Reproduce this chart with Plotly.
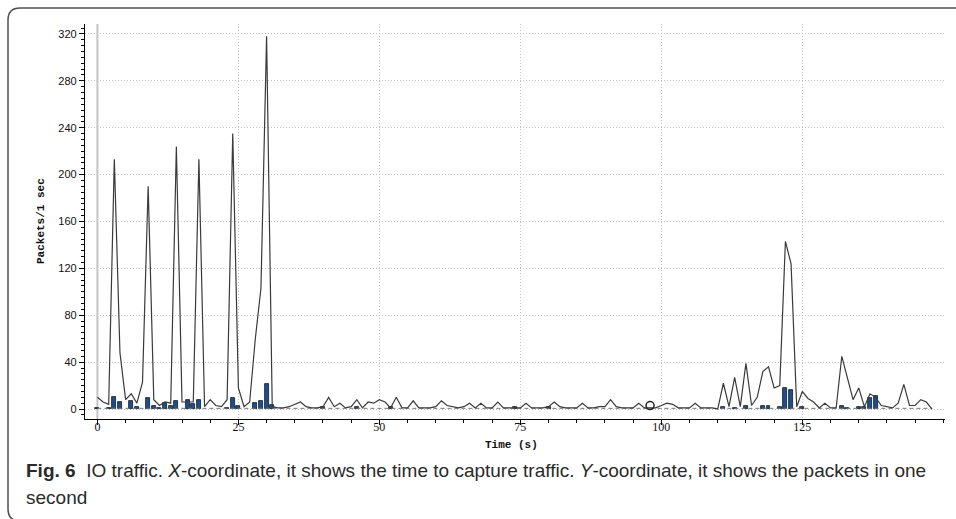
import plotly.graph_objects as go

# ---- data ----
line_t = list(range(0, 149))
line_v = [10, 6, 4, 213, 48, 8, 13, 5, 23, 190,
          8, 3, 6, 5, 224, 6, 6, 6, 213, 2,
          8, 3, 2, 8, 235, 18, 2, 6, 60, 103,
          318, 2, 1, 1, 2, 4, 6, 2, 1, 1,
          2, 10, 2, 5, 1, 2, 8, 1, 6, 5,
          8, 6, 1, 10, 1, 1, 7, 1, 1, 1,
          2, 7, 3, 2, 1, 2, 5, 1, 5, 1,
          1, 6, 1, 1, 1, 1, 5, 1, 1, 1,
          2, 6, 2, 1, 1, 1, 5, 1, 1, 2,
          2, 8, 2, 1, 1, 1, 5, 1, 1, 1,
          3, 5, 4, 1, 1, 1, 5, 1, 1, 1,
          0, 22, 2, 27, 2, 39, 3, 10, 32, 36,
          18, 20, 143, 124, 2, 15, 9, 6, 1, 5,
          1, 1, 45, 27, 8, 18, 2, 13, 10, 3,
          2, 1, 5, 21, 3, 3, 8, 6, 0]

bar_t = [0, 2, 3, 4, 6, 7, 9, 10, 11, 12, 13, 14, 16, 17, 18, 23, 24, 25, 28, 29, 30, 31,
         40, 46, 52, 74, 80, 111, 113, 115, 118, 119, 121, 122, 123, 125, 132, 133, 135, 136, 137, 138]
bar_v = [1, 1, 10, 6, 7, 2, 9, 3, 1, 5, 2.5, 7, 8, 4, 8, 1, 9, 3, 5, 7, 21, 3.5,
         1.5, 2, 2, 1.5, 1.5, 1.5, 1, 3, 3, 3, 1.5, 18, 16, 1.5, 2.5, 1, 1.5, 1.5, 9, 11]

base_t = [0, 148]
base_v = [0.6, 0.6]

marker_t = [98]
marker_v = [3]

x_ticks = [0, 25, 50, 75, 100, 125]
y_ticks = [0, 40, 80, 120, 160, 200, 240, 280, 320]

W, H = 956, 519
ML, MR, MT, MB = 85, 11, 24, 100
PW, PH = W - ML - MR, H - MT - MB


def px(x):
    return (x - ML) / PW


def py(y):
    return (H - MB - y) / PH


fig = go.Figure()
fig.add_trace(go.Scatter(x=base_t, y=base_v, mode="lines",
                         line=dict(color="#777777", width=1, dash="4px,3px"),
                         showlegend=False, hoverinfo="skip"))
fig.add_trace(go.Bar(x=bar_t, y=bar_v, width=0.7,
                     marker=dict(color="#1d4f8f", line=dict(color="#101820", width=0.8)),
                     showlegend=False))
fig.add_trace(go.Scatter(x=line_t, y=line_v, mode="lines",
                         line=dict(color="#3a3a3a", width=1.2),
                         showlegend=False))
fig.add_trace(go.Scatter(x=marker_t, y=marker_v, mode="markers",
                         marker=dict(symbol="circle-open", size=8, color="#222222",
                                     line=dict(width=1.5)),
                         showlegend=False))

# cursor line at t=0
fig.add_shape(type="line", xref="x", yref="paper", x0=0, x1=0, y0=0, y1=1,
              line=dict(color="#c4c4c4", width=2), layer="below")

# rounded frame around figure
r = 12
path = (f"M {px(965)} {py(8)} L {px(8 + r)} {py(8)} Q {px(8)} {py(8)} {px(8)} {py(8 + r)} "
        f"L {px(8)} {py(521 - r)} Q {px(8)} {py(521)} {px(8 + r)} {py(521)} L {px(965)} {py(521)}")
fig.add_shape(type="path", xref="paper", yref="paper", path=path,
              line=dict(color="#505050", width=1.5))

grid_col = "#c4c4c4"
fig.update_xaxes(range=[-2.2, 150.3], tickvals=x_ticks, ticktext=[str(v) for v in x_ticks],
                 showline=True, linecolor="black", linewidth=1.2,
                 ticks="outside", ticklen=5, tickcolor="black",
                 minor=dict(dtick=5, ticks="outside", ticklen=3, tickcolor="black", showgrid=False),
                 showgrid=True, gridcolor=grid_col, griddash="1px,2px", gridwidth=1,
                 zeroline=False, ticklabelstandoff=-9,
                 tickfont=dict(family="Liberation Serif", size=12, color="#111111"))
fig.update_yaxes(range=[-8.5, 328.5], tickvals=y_ticks,
                 showline=True, linecolor="black", linewidth=1.2,
                 ticks="outside", ticklen=5, tickcolor="black",
                 minor=dict(dtick=5, ticks="outside", ticklen=3, tickcolor="black", showgrid=False),
                 showgrid=True, gridcolor=grid_col, griddash="1px,2px", gridwidth=1,
                 zeroline=False,
                 tickfont=dict(family="Liberation Sans", size=11, color="#111111"))

annots = [
    dict(text="<b>Time (s)</b>", x=px(511), y=py(445), font=dict(family="Liberation Mono", size=11, color="#111")),
    dict(text="<b>Packets/1 sec</b>", x=px(41), y=py(221), textangle=-90,
         font=dict(family="Liberation Mono", size=11, color="#111")),
    dict(text="<b>Fig. 6</b>  IO traffic. <i>X</i>-coordinate, it shows the time to capture traffic. "
              "<i>Y</i>-coordinate, it shows the packets in one",
         x=px(24), y=py(470), xanchor="left", font=dict(family="Liberation Sans", size=19, color="#2a2a2a")),
    dict(text="second", x=px(24), y=py(497), xanchor="left",
         font=dict(family="Liberation Sans", size=19, color="#2a2a2a")),
]
for a in annots:
    a.setdefault("xanchor", "center")
    fig.add_annotation(xref="paper", yref="paper", showarrow=False, yanchor="middle", **a)

fig.update_layout(width=W, height=H, margin=dict(l=ML, r=MR, t=MT, b=MB),
                  paper_bgcolor="white", plot_bgcolor="white", bargap=0)
fig.write_html("out.html")
